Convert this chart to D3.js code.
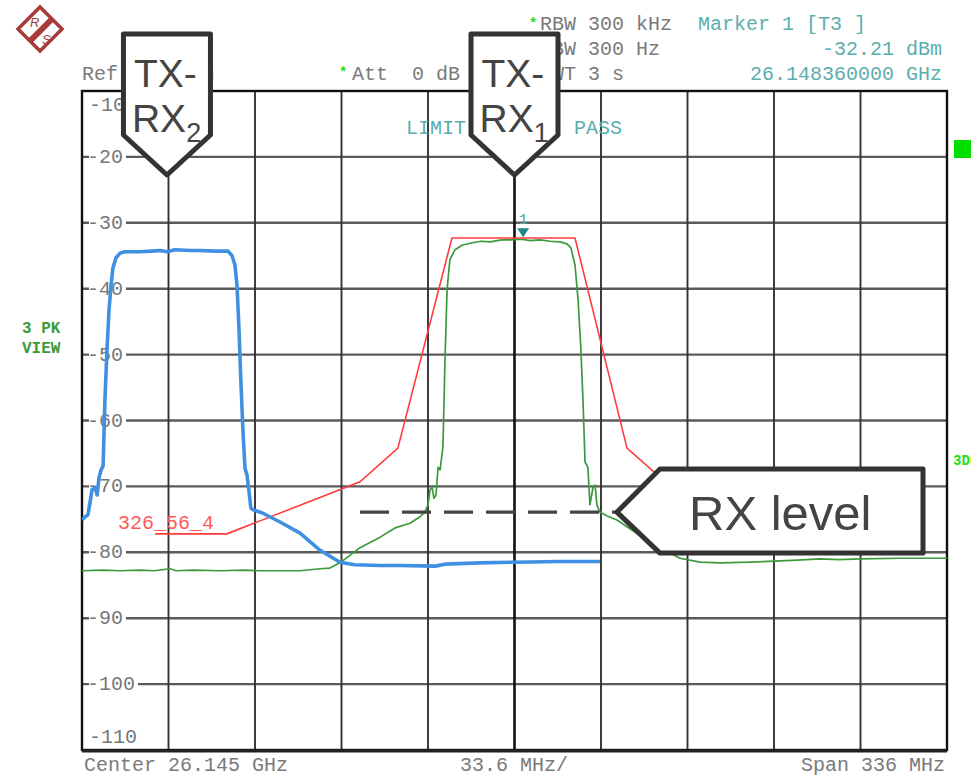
<!DOCTYPE html>
<html><head><meta charset="utf-8">
<script src="https://cdn.jsdelivr.net/npm/d3@7"></script>
<style>
html,body{margin:0;padding:0;background:#fff;overflow:hidden}
svg{display:block}
.mono{font-family:"Liberation Mono","DejaVu Sans Mono",monospace}
.sans{font-family:"Liberation Sans",Arial,sans-serif}
</style></head>
<body>
<svg id="c" width="971" height="776"></svg>
<script>
// ---- Data (frequency offset from centre in MHz, level in dBm) ----
const centerGHz = 26.145, spanMHz = 336, divMHz = 33.6;
const yTicks = [-10,-20,-30,-40,-50,-60,-70,-80,-90,-100,-110];

// TX-RX2 trace (blue)
const txrx2F = [-168,-166.4,-165.7,-164.9,-164.1,-162.9,-162.1,-161.4,-160.6,-159.8,-159.1,-158.3,-157.5,-156.7,-156,-154.8,-153.2,-151.3,-145.5,-141,-137.7,-135,-131.9,-126,-122.2,-116,-111.3,-109.7,-108.6,-107.8,-107,-106.3,-105.5,-104.7,-103.9,-103.2,-102.4,-101.2,-98.1,-91.1,-83.3,-75.5,-67.8,-62,-52,-44.5,-30.9,-27,-13.4,-0.2,17.7,33.2];
const txrx2L = [-75.1,-74.5,-74.3,-72.5,-70.5,-70.2,-71.3,-68.7,-67.5,-66.9,-56.9,-49.3,-43.2,-39.4,-36.9,-35.3,-34.6,-34.4,-34.4,-34.3,-34.2,-34.4,-34.1,-34.2,-34.2,-34.3,-34.3,-35.0,-36.4,-39.4,-46.3,-53.9,-61.4,-67.2,-68.3,-70.5,-73.3,-73.6,-74.0,-75.4,-77.1,-79.7,-81.5,-81.9,-82.0,-82.0,-82.1,-81.8,-81.6,-81.5,-81.4,-81.4];

// TX-RX1 trace (green)
const txrx1F = [-168,-160,-153.2,-145.5,-140,-133.8,-131.5,-125,-114.4,-105,-98.9,-90,-83.3,-75.5,-71.7,-67.8,-60,-52.2,-46.4,-40.6,-36.7,-34.8,-33.6,-32.8,-32,-31.3,-30.5,-29.7,-28.9,-27.8,-27,-26.2,-25.1,-23.1,-20.4,-17.3,-13,-9.5,-5,-1.7,2.9,6,9.9,14,17.7,20.4,21.9,23.5,24.7,25.8,26.6,27.4,28.5,29.3,30.5,31.3,32,33.2,36,39.8,44,48.7,56.5,64.3,72.1,80,91.5,103.1,110,118.7,126,134.2,150,168];
const txrx1L = [-82.8,-82.7,-82.8,-82.7,-82.8,-82.5,-82.8,-82.7,-82.8,-82.7,-82.8,-82.8,-82.8,-82.5,-82.4,-81.6,-79.3,-77.7,-76.3,-75.6,-74.6,-73.9,-72.8,-70.5,-70.1,-71.8,-71.3,-67.1,-67.5,-64.0,-50.8,-40.2,-35.6,-34.1,-33.4,-33.1,-32.8,-32.9,-32.6,-32.6,-32.5,-32.7,-32.6,-32.8,-32.9,-33.2,-33.8,-36.4,-41.7,-49.3,-56.9,-66.3,-67.1,-72.8,-70.1,-69.8,-72.8,-73.9,-74.5,-75.1,-76.2,-77.4,-79.3,-80.9,-81.5,-81.6,-81.5,-81.3,-81.2,-81.0,-81.1,-81.0,-80.9,-80.9];

// Limit line 326_56_4 (red)
const limitF = [-139.6,-111.7,-60,-45.3,-24.3,23.5,43.7,58.5,111.7,139.6];
const limitL = [-77.2,-77.2,-69.3,-64.2,-32.3,-32.3,-64.2,-69.3,-77.2,-77.2];

// Marker 1 and annotations
const marker = {f: 3.36, l: -32.21, label: "1"};
const rxLevel = {l: -73.9, f0: -60, f1: 39.8};
const calloutTX2 = {f: -135, l: -22.75};
const calloutTX1 = {f: 0, l: -22.75};

// ---- Scales ----
const X0 = 82, X1 = 947, Y0 = 91, Y1 = 750;
const x = d3.scaleLinear().domain([-spanMHz/2, spanMHz/2]).range([X0, X1]);
const y = d3.scaleLinear().domain([-10, -110]).range([Y0, Y1]);
const xDivs = d3.range(0, 11).map(i => -spanMHz/2 + i*divMHz);
const NB = "\u00A0";

const svg = d3.select("#c");
svg.append("defs").append("clipPath").attr("id","plot")
  .append("rect").attr("x",X0).attr("y",Y0).attr("width",X1-X0).attr("height",Y1-Y0);

// grid
const g = svg.append("g");
g.selectAll("line.h").data(yTicks.slice(1,-1)).join("line")
  .attr("x1",X0).attr("x2",X1).attr("y1",d=>y(d)).attr("y2",d=>y(d))
  .attr("stroke","#4a4a4a").attr("stroke-width",2.4).attr("opacity",0.9);
g.selectAll("line.v").data(xDivs.slice(1,-1)).join("line")
  .attr("y1",Y0).attr("y2",Y1).attr("x1",d=>x(d)).attr("x2",d=>x(d))
  .attr("stroke",(d)=>Math.abs(d)<1e-6?"#111":"#333")
  .attr("stroke-width",(d)=>Math.abs(d)<1e-6?2.6:1.9);
// border
g.append("rect").attr("x",X0).attr("y",Y0).attr("width",X1-X0).attr("height",Y1-Y0)
  .attr("fill","none").attr("stroke","#111").attr("stroke-width",2.4);
g.append("line").attr("x1",X0).attr("x2",X1).attr("y1",Y1+1).attr("y2",Y1+1)
  .attr("stroke","#222").attr("stroke-width",3);

// y labels
const yl = svg.append("g").attr("class","mono").attr("font-size",20).attr("fill","#777");
yTicks.forEach((t,i)=>{
  const s = String(t);
  if (i===0) { yl.append("text").attr("x",89).attr("y",y(t)+20).text(s); return; }
  if (i===yTicks.length-1) { yl.append("text").attr("x",89).attr("y",y(t)-7).text(s); return; }
  yl.append("rect").attr("x",89).attr("y",y(t)-8).attr("width",s.length*12+1).attr("height",16).attr("fill","#fff");
  yl.append("text").attr("x",87).attr("y",y(t)+6).text(s);
});

// limit check text (middle part hidden behind the TX-RX1 callout)
const lt = svg.append("g").attr("class","mono").attr("font-size",20).attr("fill","#5aaeae");
lt.append("text").attr("x",406).attr("y",134).text("LIMIT");
lt.append("text").attr("x",574).attr("y",134).text("PASS");

// traces
const plot = svg.append("g").attr("clip-path","url(#plot)");
const line = d3.line().x(d=>x(d[0])).y(d=>y(d[1]));
plot.append("path").datum(d3.zip(txrx1F, txrx1L)).attr("d",line)
  .attr("fill","none").attr("stroke","#3c9a3c").attr("stroke-width",1.7).attr("stroke-linejoin","round");
plot.append("path").datum(d3.zip(limitF, limitL)).attr("d",line)
  .attr("fill","none").attr("stroke","#ff3b3b").attr("stroke-width",1.6);
plot.append("path").datum(d3.zip(txrx2F, txrx2L)).attr("d",line)
  .attr("fill","none").attr("stroke","#3f90e2").attr("stroke-width",3.6).attr("stroke-linejoin","round");

// limit label
svg.append("text").attr("class","mono").attr("font-size",20).attr("fill","#ff5a5a")
  .attr("x",118).attr("y",529).text("326_56_4");

// marker
const mx = x(marker.f), my = y(marker.l);
svg.append("path").attr("d",`M${mx-6},${my-9}L${mx+6},${my-9}L${mx},${my}Z`).attr("fill","#1f8a8a");
svg.append("text").attr("class","mono").attr("font-size",15).attr("fill","#4aa8a8")
  .attr("x",mx).attr("y",my-13).attr("text-anchor","middle").text(marker.label);

// RX level dashed line
svg.append("line").attr("x1",x(rxLevel.f0)).attr("x2",x(rxLevel.f1)).attr("y1",y(rxLevel.l)).attr("y2",y(rxLevel.l))
  .attr("stroke","#444").attr("stroke-width",3.2).attr("stroke-dasharray","29,13");

// header texts
const hd = svg.append("g").attr("class","mono").attr("font-size",20);
hd.append("text").attr("x",82).attr("y",80).attr("fill","#7a7a7a").text("Ref -10 dBm");
hd.append("text").attr("x",352).attr("y",80).attr("fill","#7a7a7a").text("Att"+NB+NB+"0 dB");
hd.append("text").attr("x",540).attr("y",30).attr("fill","#7a7a7a").text("RBW 300 kHz");
hd.append("text").attr("x",540).attr("y",55).attr("fill","#7a7a7a").text("VBW 300 Hz");
hd.append("text").attr("x",540).attr("y",80).attr("fill","#7a7a7a").text("SWT 3 s");
hd.append("text").attr("x",698).attr("y",30).attr("fill","#5aaeae").text("Marker 1 [T3 ]");
hd.append("text").attr("x",942).attr("y",55).attr("text-anchor","end").attr("fill","#5aaeae").text("-32.21 dBm");
hd.append("text").attr("x",942).attr("y",80).attr("text-anchor","end").attr("fill","#5aaeae").text("26.148360000 GHz");
[[529,28],[339,77]].forEach(p=>svg.append("text").attr("class","mono").attr("font-size",14).attr("font-weight","bold")
  .attr("fill","#22dd22").attr("x",p[0]).attr("y",p[1]).text("*"));

// bottom texts
const bt = svg.append("g").attr("class","mono").attr("font-size",20).attr("fill","#7a7a7a");
bt.append("text").attr("x",84).attr("y",771).text(`Center ${centerGHz} GHz`);
bt.append("text").attr("x",514).attr("y",771).attr("text-anchor","middle").text(`${divMHz} MHz/`);
bt.append("text").attr("x",945).attr("y",771).attr("text-anchor","end").text(`Span ${spanMHz} MHz`);

// left / right side labels
const sl = svg.append("g").attr("class","mono").attr("font-size",16).attr("font-weight","bold").attr("fill","#3c9a3c");
sl.append("text").attr("x",22).attr("y",333).text("3 PK");
sl.append("text").attr("x",22).attr("y",353).text("VIEW");
svg.append("rect").attr("x",954).attr("y",140).attr("width",20).attr("height",18).attr("fill","#00e000");
svg.append("text").attr("class","mono").attr("font-size",14).attr("font-weight","bold").attr("fill","#22dd22")
  .attr("x",953).attr("y",465).text("3DB");

// R&S logo
const lg = svg.append("g").attr("transform","translate(40,29)");
lg.append("path").attr("d","M0,-22L22,0L0,22L-22,0Z").attr("fill","none").attr("stroke","#a83a3a").attr("stroke-width",3.5);
lg.append("line").attr("x1",12).attr("y1",-10).attr("x2",-10).attr("y2",12).attr("stroke","#a83a3a").attr("stroke-width",6);
lg.append("text").attr("class","sans").attr("font-size",13).attr("font-style","italic").attr("fill","#a83a3a")
  .attr("x",-10).attr("y",-2).text("R");
lg.append("text").attr("class","sans").attr("font-size",13).attr("font-style","italic").attr("fill","#a83a3a")
  .attr("x",2).attr("y",15).text("S");

// callouts
function downCallout(cx, tipY, sub){
  const w2 = 43.5, top = 34, shoulder = tipY - 40;
  const gg = svg.append("g");
  gg.append("path").attr("d",`M${cx-w2},${top}L${cx+w2},${top}L${cx+w2},${shoulder}L${cx},${tipY}L${cx-w2},${shoulder}Z`)
    .attr("fill","#fff").attr("stroke","#333").attr("stroke-width",5).attr("stroke-linejoin","round");
  const t = gg.append("g").attr("class","sans").attr("fill","#444");
  t.append("text").attr("x",cx-33).attr("y",87).attr("font-size",39).text("TX-");
  const r = t.append("text").attr("x",cx-35).attr("y",132).attr("font-size",39);
  r.append("tspan").text("RX");
  r.append("tspan").attr("font-size",27).attr("dy",10).text(sub);
}
downCallout(x(calloutTX2.f), y(calloutTX2.l), "2");
downCallout(x(calloutTX1.f), y(calloutTX1.l), "1");

const tipX = x(rxLevel.f1), tipY = y(rxLevel.l);
const rc = svg.append("g");
rc.append("path").attr("d",`M${tipX},${tipY}L${tipX+43},${tipY-43}L923,${tipY-43}L923,${tipY+41}L${tipX+43},${tipY+41}Z`)
  .attr("fill","#fff").attr("stroke","#333").attr("stroke-width",5).attr("stroke-linejoin","round");
rc.append("text").attr("class","sans").attr("font-size",49).attr("fill","#444").attr("x",689).attr("y",530).text("RX level");
</script>
</body></html>
